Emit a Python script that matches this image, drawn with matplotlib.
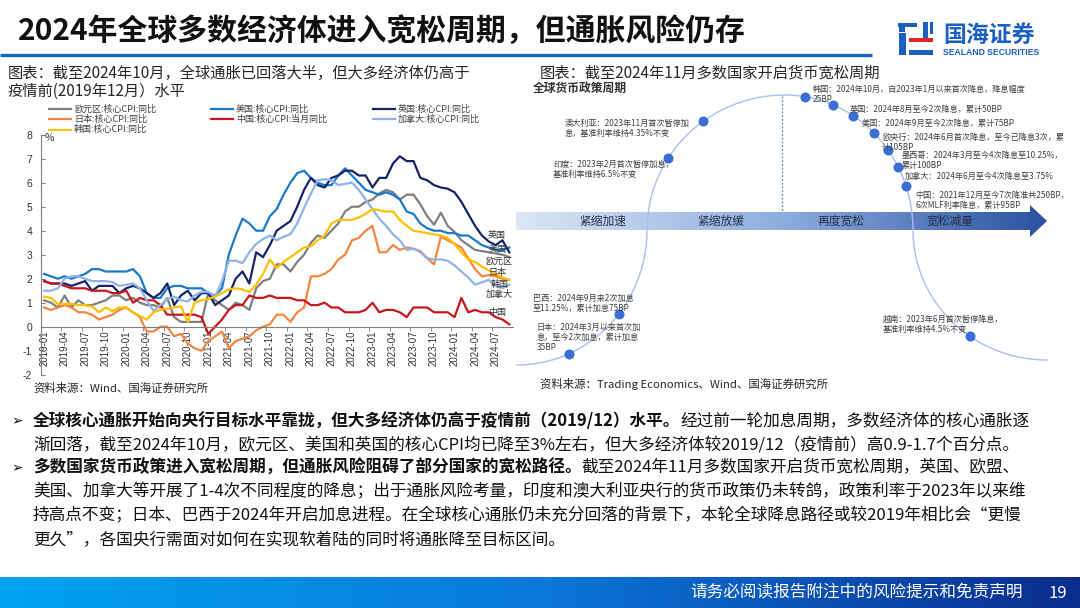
import matplotlib
matplotlib.use('Agg')
import matplotlib.pyplot as plt
import numpy as np
import pandas as pd
from matplotlib.patches import Polygon, Rectangle
from matplotlib.colors import LinearSegmentedColormap

plt.rcParams['font.family'] = ['Noto Sans CJK SC', 'DejaVu Sans']
plt.rcParams['axes.unicode_minus'] = False

# ---- 数据：核心CPI同比(%)，2019-01 至 2024-09 ----
months = pd.period_range('2019-01', '2024-09', freq='M')
month_labels = [p.strftime('%Y-%m') for p in months]

euro = [1.1, 1.0, 0.8, 1.3, 0.8, 1.1, 0.9, 0.9, 1.0, 1.1, 1.3, 1.3,
        1.1, 1.2, 1.0, 0.9, 0.9, 0.8, 1.2, 0.4, 0.2, 0.2, 0.2, 0.2,
        1.4, 1.1, 0.9, 0.7, 1.0, 0.9, 0.7, 1.6, 1.9, 2.0, 2.6, 2.6,
        2.3, 2.7, 3.0, 3.5, 3.8, 3.7, 4.0, 4.3, 4.8, 5.0, 5.0, 5.2,
        5.3, 5.55, 5.7, 5.6, 5.3, 5.5, 5.5, 5.1, 4.6, 4.25, 4.75, 4.2,
        3.95, 3.6, 3.4, 3.2, 3.15, 3.1, 3.05, 3.0, 2.9]
usa = [2.2, 2.1, 2.0, 2.1, 2.0, 2.1, 2.2, 2.4, 2.4, 2.3, 2.3, 2.3,
       2.3, 2.4, 2.1, 1.4, 1.2, 1.2, 1.6, 1.7, 1.7, 1.6, 1.6, 1.6,
       1.4, 1.3, 1.6, 3.0, 3.8, 4.5, 4.3, 4.0, 4.0, 4.6, 4.9, 5.5,
       6.0, 6.4, 6.5, 6.2, 6.0, 5.9, 5.9, 6.3, 6.6, 6.3, 6.0, 5.7,
       5.6, 5.5, 5.6, 5.5, 5.3, 4.8, 4.7, 4.3, 4.1, 4.0, 4.0, 3.9,
       3.9, 3.8, 3.8, 3.6, 3.4, 3.3, 3.2, 3.2, 3.3]
uk = [1.9, 1.8, 1.8, 1.8, 1.7, 1.8, 1.9, 1.5, 1.7, 1.7, 1.7, 1.4,
      1.6, 1.7, 1.6, 1.4, 1.2, 1.4, 1.8, 0.9, 1.3, 1.5, 1.1, 1.4,
      1.4, 0.9, 1.1, 1.3, 2.0, 2.3, 1.8, 3.1, 2.9, 3.4, 4.0, 4.2,
      4.4, 5.0, 5.7, 6.2, 5.9, 5.8, 6.2, 6.3, 6.5, 6.5, 6.3, 6.3,
      5.8, 6.2, 6.2, 6.8, 7.1, 6.9, 6.9, 6.2, 6.1, 5.9, 5.8, 5.75,
      5.6, 5.2, 4.7, 4.2, 3.8, 3.55, 3.4, 3.6, 3.1]
japan = [0.8, 0.7, 0.8, 0.9, 0.8, 0.6, 0.6, 0.5, 0.3, 0.4, 0.5, 0.7,
         0.8, 0.6, 0.4, -0.2, -0.2, 0.0, 0.0, -0.4, -0.3, -0.7, -0.9, -1.0,
         -0.6, -0.4, -0.2, -0.9, -0.6, -0.5, -0.4, -0.15, 0.0, 0.1, 0.5, 0.5,
         0.2, 0.6, 0.8, 2.1, 2.1, 2.2, 2.4, 2.8, 3.0, 3.6, 3.7, 4.0,
         4.2, 3.1, 3.1, 3.4, 3.2, 3.3, 3.25, 3.15, 2.85, 2.6, 3.75, 3.6,
         3.45, 3.3, 2.85, 2.4, 2.1, 2.15, 2.1, 2.0, 1.95]
china = [1.9, 1.8, 1.8, 1.7, 1.6, 1.6, 1.6, 1.5, 1.5, 1.5, 1.4, 1.4,
         1.5, 1.0, 1.2, 1.1, 1.1, 0.9, 0.5, 0.5, 0.5, 0.5, 0.5, 0.4,
         -0.3, 0.0, 0.3, 0.7, 0.9, 0.9, 1.3, 1.2, 1.2, 1.3, 1.2, 1.2,
         1.2, 1.1, 1.1, 0.9, 0.9, 1.0, 0.8, 0.8, 0.6, 0.6, 0.6, 0.7,
         1.0, 0.6, 0.7, 0.7, 0.6, 0.4, 0.8, 0.8, 0.8, 0.6, 0.6, 0.6,
         0.4, 1.2, 0.6, 0.7, 0.6, 0.6, 0.4, 0.3, 0.1]
canada = [1.5, 1.5, 1.6, 2.0, 2.1, 2.1, 2.0, 1.9, 1.9, 1.9, 1.85, 1.7,
          1.75, 1.8, 1.6, 1.1, 0.65, 0.9, 1.15, 1.25, 1.1, 1.05, 1.3, 1.45,
          1.45, 1.25, 1.9, 2.75, 2.75, 2.65, 3.1, 3.45, 3.65, 3.8, 3.6, 3.75,
          3.85, 4.3, 4.95, 5.55, 6.1, 6.15, 6.1, 5.9, 5.95, 6.0, 5.7, 5.3,
          4.9, 4.5, 4.2, 3.85, 3.6, 3.2, 3.25, 3.1, 2.85, 2.8, 2.8, 2.75,
          2.55, 2.3, 2.05, 1.75, 1.85, 1.95, 1.7, 1.6, 1.75]
korea = [1.25, 1.2, 0.95, 0.95, 0.95, 0.9, 0.9, 0.85, 0.6, 0.8, 0.65, 0.8,
         0.8, 0.6, 0.45, 0.3, 0.6, 0.7, 0.75, 0.8, 0.85, 0.2, 1.0, 1.1,
         1.15, 1.25, 1.4, 1.55, 1.6, 1.55, 1.45, 1.75, 2.2, 2.8, 2.45, 2.7,
         2.9, 3.1, 3.3, 3.35, 3.6, 3.8, 4.3, 4.45, 4.45, 4.45, 4.55, 4.7,
         4.9, 4.85, 4.8, 4.8, 4.45, 4.2, 4.0, 3.95, 3.9, 3.85, 3.8, 3.7,
         3.45, 3.1, 2.8, 2.7, 2.5, 2.35, 2.2, 2.05, 1.95]

series = [
    ('欧元区:核心CPI:同比', euro, '#7F7F7F'),
    ('美国:核心CPI:同比', usa, '#1A7AC9'),
    ('英国:核心CPI:同比', uk, '#15246A'),
    ('日本:核心CPI:同比', japan, '#F4873F'),
    ('中国:核心CPI:当月同比', china, '#C8161D'),
    ('加拿大:核心CPI:同比', canada, '#8FB2E8'),
    ('韩国:核心CPI:同比', korea, '#FFC000'),
]
# 线尾标注 (名称, 月序号, 数值)
end_labels = [('英国', 66.2, 3.82), ('美国', 66.3, 3.2), ('欧元区', 66.5, 2.74),
              ('日本', 66.2, 2.24), ('韩国', 66.6, 1.78), ('加拿大', 66.6, 1.36),
              ('中国', 66.2, 0.61)]

# 右图：货币政策周期 (名称, 曲线上x位置, 说明文字, 文字起点)
policy_notes = [
    ('澳大利亚', 703, ['澳大利亚：2023年11月首次暂停加', '息，基准利率维持4.35%不变'], (565, 123)),
    ('印度', 668, ['印度：2023年2月首次暂停加息，', '基准利率维持6.5%不变'], (553, 164)),
    ('巴西', 619, ['巴西：2024年9月来2次加息', '至11.25%，累计加息75BP'], (533, 298)),
    ('日本', 569, ['日本：2024年3月以来首次加', '息，至今2次加息，累计加息', '35BP'], (537, 327)),
    ('韩国', 805, ['韩国：2024年10月，自2023年1月以来首次降息，降息幅度', '25BP'], (813, 89)),
    ('英国', 833, ['英国：2024年8月至今2次降息，累计50BP'], (850, 109)),
    ('美国', 853, ['美国：2024年9月至今2次降息，累计75BP'], (862, 123)),
    ('欧央行', 874, ['欧央行：2024年6月首次降息，至今已降息3次，累', '计105BP'], (882, 137)),
    ('墨西哥', 888, ['墨西哥：2024年3月至今4次降息至10.25%，', '累计100BP'], (902, 155)),
    ('加拿大', 898, ['加拿大：2024年6月至今4次降息至3.75%'], (905, 176)),
    ('中国', 906, ['中国：2021年12月至今7次降准共250BP，', '6次MLF利率降息，累计95BP'], (915, 195)),
    ('越南', 970, ['越南：2023年6月首次暂停降息，', '基准利率维持4.5%不变'], (883, 319)),
]
stages = [('紧缩加速', 603), ('紧缩放缓', 721), ('再度宽松', 841), ('宽松减量', 950)]

W, H = 1080, 608
fig = plt.figure(figsize=(W / 100, H / 100), dpi=100)
fig.patch.set_facecolor('white')

# 整页背景层，用像素坐标
bg = fig.add_axes([0, 0, 1, 1])
bg.axis('off')


def fix_limits():
    bg.set_xlim(0, W)
    bg.set_ylim(H, 0)


fix_limits()

# 标题
bg.text(18, 31, '2024年全球多数经济体进入宽松周期，但通胀风险仍存', fontsize=21.5,
        fontweight='bold', color='#111111', va='center', ha='left')
bg.plot([0, 872], [55, 55], color='#1565C8', lw=2.4, solid_capstyle='butt')

# logo
logo_blue, logo_red = '#1B5FC1', '#E0262B'
for (x0, y0, w, h, c) in [(898, 22.5, 19, 4.2, logo_blue), (899, 27, 6, 5, logo_blue),
                          (899, 33, 7, 22, logo_blue), (922.5, 21.5, 5.5, 16, logo_blue),
                          (929.5, 21.5, 3.5, 12, logo_blue), (909, 38.3, 24, 4.2, logo_red),
                          (909, 49.5, 24, 5, logo_blue)]:
    bg.add_patch(Rectangle((x0, y0), w, h, color=c, lw=0))
bg.text(943, 35, '国海证券', fontsize=16.5, fontweight='bold', color=logo_blue,
        va='center', ha='left')
bg.text(943, 52.5, 'SEALAND SECURITIES', fontsize=6.2, fontweight='bold', color=logo_blue,
        family=['Liberation Sans', 'DejaVu Sans'], va='center', ha='left')

# 图表标题
cap_kw = dict(fontsize=11, color='#262626', va='center', ha='left')
bg.text(8, 73, '图表：截至2024年10月，全球通胀已回落大半，但大多经济体仍高于', **cap_kw)
bg.text(8, 91, '疫情前(2019年12月）水平', **cap_kw)
bg.text(540, 73, '图表：截至2024年11月多数国家开启货币宽松周期', **cap_kw)

# 图例
leg_x = [49, 211, 373]
leg_y = [109, 119.3, 129.6]
for i, (name, _, color) in enumerate(series):
    r, c = divmod(i, 3)
    bg.plot([leg_x[c], leg_x[c] + 22], [leg_y[r], leg_y[r]], color=color, lw=1.6)
    bg.text(leg_x[c] + 25, leg_y[r], name, fontsize=6.5, color='#404040',
            va='center', ha='left')

bg.text(33, 388, '资料来源：Wind、国海证券研究所', fontsize=8.2, color='#262626',
        va='center', ha='left')
bg.text(540, 384, '资料来源：Trading Economics、Wind、国海证券研究所', fontsize=8.2,
        color='#262626', va='center', ha='left')

# ---- 右图：全球货币政策周期示意 ----
bg.text(533, 88, '全球货币政策周期', fontsize=8.5, fontweight='bold', color='#333333',
        va='center', ha='left')
band = Polygon([(516, 212), (1030, 212), (1030, 205), (1047, 221), (1030, 237),
                (1030, 230), (516, 230)], closed=True, facecolor='none', edgecolor='none')
bg.add_patch(band)
band_cmap = LinearSegmentedColormap.from_list('band', ['#DCE6F5', '#8EADDF', '#2A52A0'])
im = bg.imshow(np.linspace(0, 1, 256).reshape(1, -1), extent=(516, 1047, 237, 205),
               cmap=band_cmap, aspect='auto', zorder=1)
im.set_clip_path(band)
fix_limits()
for name, xc in stages:
    bg.text(xc, 221, name, fontsize=8.5, color='#26304A', va='center', ha='center', zorder=3)


def curve_y(x):
    if x <= 647:
        return 230 + 135 * np.sqrt(max(0, 1 - ((x - 517) / 130) ** 2))
    if x <= 785:
        return 230 - 135 * np.sqrt(max(0, 1 - ((785 - x) / 138) ** 2))
    if x <= 913:
        return 230 - 135 * np.sqrt(max(0, 1 - ((x - 785) / 128) ** 2))
    return 230 + 130 * np.sqrt(max(0, 1 - ((1047 - x) / 134) ** 2))


t = np.linspace(0, np.pi / 2, 120)
cx = np.concatenate([517 + 130 * np.cos(t[::-1]), 785 - 138 * np.sin(t[::-1]),
                     785 + 128 * np.sin(t), 1047 - 134 * np.cos(t)])
cy = np.concatenate([230 + 135 * np.sin(t[::-1]), 230 - 135 * np.cos(t[::-1]),
                     230 - 135 * np.cos(t), 230 + 130 * np.sin(t)])
bg.plot(cx, cy, color='#A9C1EA', lw=1.0, zorder=2)
bg.plot([782, 782], [96, 212], color='#5B82CC', lw=0.9, ls=(0, (1.5, 1.5)), zorder=2)

for name, xd, lines, (tx, ty) in policy_notes:
    bg.plot([xd], [curve_y(xd)], 'o', ms=6.2, color='#3B6FD4', zorder=4)
    for k, line in enumerate(lines):
        bg.text(tx, ty + k * 10.5, line, fontsize=5.9, color='#404040',
                va='center', ha='left', zorder=5)

# 页脚
foot_cmap = LinearSegmentedColormap.from_list('foot', ['#00A3EE', '#0A78DA', '#0A2C8E'])
bg.imshow(np.linspace(0, 1, 256).reshape(1, -1), extent=(0, W, H, 577), cmap=foot_cmap,
          aspect='auto', zorder=1)
fix_limits()
bg.text(690, 593, '请务必阅读报告附注中的风险提示和免责声明', fontsize=12, color='white',
        va='center', ha='left', zorder=3)
bg.text(1058, 593, '19', fontsize=12, color='white', va='center', ha='center', zorder=3)

# ---- 底部文字 ----
fig.canvas.draw()
renderer = fig.canvas.get_renderer()
body = 12


def mixed_line(x, y, bold, regular):
    t1 = bg.text(x, y, bold, fontsize=body, fontweight='bold', color='#111111',
                 va='center', ha='left')
    bb = t1.get_window_extent(renderer)
    x2 = bg.transData.inverted().transform((bb.x1, 0))[0]
    bg.text(x2, y, regular, fontsize=body, color='#111111', va='center', ha='left')


for yb in (421, 468):
    bg.text(11, yb, '➢', fontsize=10, color='#111111', va='center', ha='left',
            family=['DejaVu Sans'])
mixed_line(33, 421, '全球核心通胀开始向央行目标水平靠拢，但大多经济体仍高于疫情前（2019/12）水平。',
           '经过前一轮加息周期，多数经济体的核心通胀逐')
bg.text(33, 444.5, '渐回落，截至2024年10月，欧元区、美国和英国的核心CPI均已降至3%左右，但大多经济体较2019/12（疫情前）高0.9-1.7个百分点。',
        fontsize=body, color='#111111', va='center', ha='left')
mixed_line(33, 468, '多数国家货币政策进入宽松周期，但通胀风险阻碍了部分国家的宽松路径。',
           '截至2024年11月多数国家开启货币宽松周期，英国、欧盟、')
rest = ['美国、加拿大等开展了1-4次不同程度的降息；出于通胀风险考量，印度和澳大利亚央行的货币政策仍未转鸽，政策利率于2023年以来维',
        '持高点不变；日本、巴西于2024年开启加息进程。在全球核心通胀仍未充分回落的背景下，本轮全球降息路径或较2019年相比会“更慢',
        '更久”，各国央行需面对如何在实现软着陆的同时将通胀降至目标区间。']
for k, line in enumerate(rest):
    bg.text(33, 492 + k * 24, line, fontsize=body, color='#111111', va='center', ha='left')

# ---- 左图：核心CPI折线 ----
ax = fig.add_axes([40.7 / W, 1 - 374.7 / H, 472 / W, 240 / H])
ax.set_facecolor('none')
ax.spines['top'].set_visible(False)
ax.spines['right'].set_visible(False)
ax.spines['bottom'].set_position(('data', 0))
for s in ('left', 'bottom'):
    ax.spines[s].set_color('#7F7F7F')
    ax.spines[s].set_linewidth(0.8)

x = np.arange(len(months))
for name, vals, color in series:
    ax.plot(x, vals, color=color, lw=1.6, solid_joinstyle='round')
for name, xm, yv in end_labels:
    ax.text(xm, yv, name, fontsize=6.5, color='#333333', ha='center', va='center')

ax.set_xlim(-0.5, len(months) - 0.5)
ax.set_ylim(-2, 8)
ax.set_yticks(range(-2, 9))
ax.set_xticks(x[::3])
ax.set_xticklabels(month_labels[::3], rotation=90, fontsize=7, color='#333333',
                   family=['Liberation Sans', 'DejaVu Sans'])
ax.set_xticks(x[::3] - 0.5, minor=True)
ax.tick_params(axis='x', which='major', length=0, pad=3)
ax.tick_params(axis='x', which='minor', length=3, direction='out', color='#7F7F7F')
ax.tick_params(axis='y', length=3, direction='in', color='#7F7F7F', labelsize=7.5,
               labelcolor='#333333', pad=6)
for lab in ax.get_yticklabels():
    lab.set_family(['Liberation Sans', 'DejaVu Sans'])
ax.text(0.008, 0.985, '%', transform=ax.transAxes, fontsize=7.5, color='#333333',
        ha='left', va='center')

fig.savefig('out.png', dpi=100, facecolor='white')
